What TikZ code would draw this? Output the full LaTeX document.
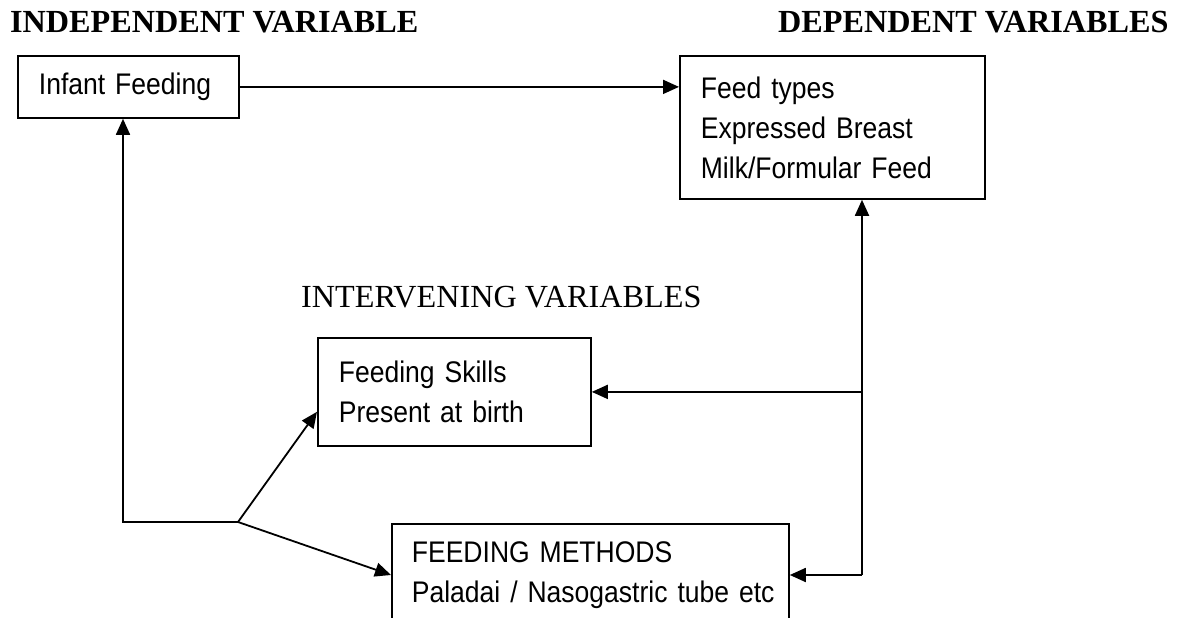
\documentclass[tikz,border=0pt]{standalone}
\usepackage{fontspec}
\setmainfont{Liberation Serif}
\setsansfont[FakeStretch=0.89]{Liberation Sans}
\usepackage{tikz}
\usetikzlibrary{arrows.meta,calc}

\tikzset{
  varbox/.style={rectangle, draw, line width=1.8pt, inner xsep=21pt,
    inner ysep=0pt, align=left, anchor=north west,
    font=\sffamily\fontsize{29.8}{40}\selectfont},
  heading/.style={inner sep=0pt, anchor=base west,
    font=\fontsize{32.2}{36}\selectfont},
  wire/.style={line width=1.8pt},
  link/.style={wire, -{Triangle[length=16pt,width=14pt]}}
}

\begin{document}
\begin{tikzpicture}[x=1pt, y=-1pt]
        \useasboundingbox (0,0) rectangle (1179,618);

        % headings
        \node[heading] (indep) at (10,33) {\bfseries INDEPENDENT VARIABLE};
        \node[heading] (dep) at (778,33) {\bfseries DEPENDENT VARIABLES};
        \node[heading] (interv) at (301,307) {INTERVENING VARIABLES};

        % boxes
        \node[varbox, text width=179pt, minimum height=62pt] (infant)
          at (17,55) {Infant Feeding};
        \node[varbox, text width=263pt, minimum height=143pt] (feedtypes)
          at (679,55) {Feed types\\Expressed Breast\\Milk/Formular Feed};
        \node[varbox, text width=231pt, minimum height=108pt] (skills)
          at (317,337) {Feeding Skills\\Present at birth};
        \node[varbox, text width=357pt, inner xsep=20pt, minimum height=102pt]
          (methods) at (391,523)
          {FEEDING METHODS\\\mbox{Paladai / Nasogastric tube etc}};

        % connectors
        \coordinate (split) at (238,522);
        \coordinate (bend) at (123,522);
        \coordinate (rail) at (862,575);

        \draw[link] (infant.east) -- (feedtypes.west |- infant.east);
        \draw[link] (split) -- (bend) -- (bend |- infant.south);
        \draw[link] (split) -- ([yshift=35pt]skills.south west);
        \draw[link] (split) -- ([yshift=-52pt]methods.north west);
        \draw[link] (rail) -- (rail |- feedtypes.south);
        \draw[link] (rail |- skills.east) -- (skills.east);
        \draw[link] (rail) -- (methods.east |- rail);
      \end{tikzpicture}
\end{document}
